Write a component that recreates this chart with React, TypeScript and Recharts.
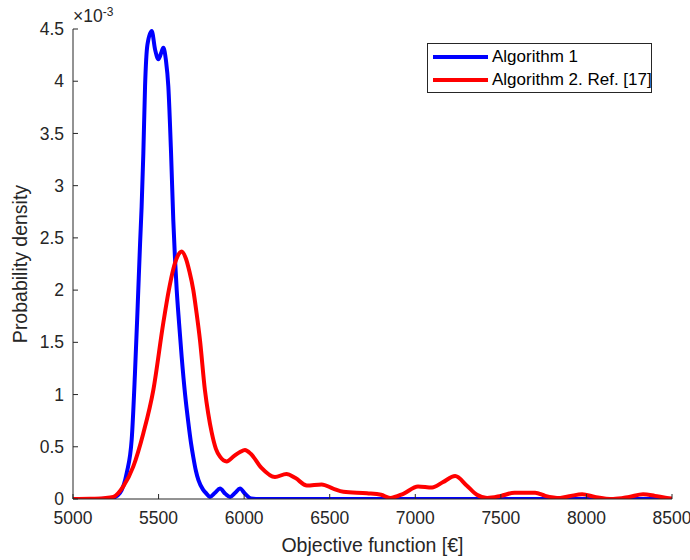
import { LineChart, Line, XAxis, YAxis, Legend } from 'recharts';

// values (y in units of 1e-3)
const blueX = [5000, 5150, 5230, 5275, 5314, 5343, 5362, 5378, 5392, 5401, 5411, 5421, 5435, 5460, 5480, 5499, 5515, 5528, 5543, 5557, 5573, 5586, 5596, 5606, 5620, 5635, 5655, 5674, 5690, 5703, 5718, 5733, 5760, 5781, 5800, 5830, 5859, 5890, 5918, 5948, 5976, 6005, 6040, 6080, 6500, 7000, 7500, 8000, 8500];
const blueY = [0, 0, 0.01, 0.06, 0.25, 0.57, 1.2, 1.85, 2.45, 2.8, 3.31, 3.95, 4.35, 4.48, 4.3, 4.21, 4.27, 4.32, 4.2, 3.95, 3.31, 2.67, 2.3, 2.0, 1.68, 1.36, 1.0, 0.73, 0.53, 0.4, 0.27, 0.18, 0.09, 0.05, 0.02, 0.06, 0.1, 0.05, 0.02, 0.06, 0.1, 0.05, 0.005, 0, 0, 0, 0, 0, 0];

const redX = [5000, 5100, 5180, 5236, 5294, 5352, 5411, 5469, 5528, 5560, 5586, 5610, 5635, 5660, 5680, 5703, 5722, 5742, 5771, 5790, 5810, 5835, 5859, 5898, 5940, 5976, 6005, 6040, 6100, 6180, 6247, 6300, 6366, 6453, 6520, 6580, 6718, 6800, 6853, 6930, 7016, 7098, 7160, 7233, 7300, 7360, 7420, 7500, 7580, 7700, 7760, 7846, 7910, 7975, 8050, 8156, 8250, 8331, 8400, 8470, 8500];
const redY = [0, 0.002, 0.008, 0.02, 0.12, 0.31, 0.63, 1.04, 1.69, 2.0, 2.2, 2.32, 2.37, 2.3, 2.18, 2.0, 1.78, 1.52, 1.04, 0.82, 0.64, 0.48, 0.405, 0.36, 0.41, 0.45, 0.47, 0.43, 0.3, 0.21, 0.24, 0.2, 0.13, 0.14, 0.1, 0.07, 0.055, 0.04, 0.01, 0.05, 0.12, 0.11, 0.16, 0.22, 0.13, 0.04, 0.01, 0.03, 0.06, 0.06, 0.03, 0.01, 0.03, 0.045, 0.02, 0.0, 0.02, 0.045, 0.03, 0.01, 0.005];

const xTicks = [5000, 5500, 6000, 6500, 7000, 7500, 8000, 8500];
const yTicks = [0, 0.5, 1, 1.5, 2, 2.5, 3, 3.5, 4, 4.5];

const blueData = blueX.map((x, i) => ({ x, y: blueY[i] }));
const redData = redX.map((x, i) => ({ x, y: redY[i] }));

const FONT = '"Liberation Sans", Arial, sans-serif';
const AXIS = '#262626';
const TICK_LEN = 5;

const BottomTick = ({ x, y, payload }: any) => (
  <g>
    <line x1={x} x2={x} y1={y} y2={y - TICK_LEN} stroke={AXIS} />
    <text x={x} y={y + 25} textAnchor="middle" fill={AXIS} fontSize={17.5} fontFamily={FONT}>
      {payload.value}
    </text>
  </g>
);

const LeftTick = ({ x, y, payload }: any) => (
  <g>
    <line x1={x} x2={x + TICK_LEN} y1={y} y2={y} stroke={AXIS} />
    <text x={x - 9} y={y} dy="0.35em" textAnchor="end" fill={AXIS} fontSize={17.5} fontFamily={FONT}>
      {payload.value}
    </text>
  </g>
);

const TopTick = ({ x, y }: any) => <line x1={x} x2={x} y1={y} y2={y + TICK_LEN} stroke={AXIS} />;
const RightTick = ({ x, y }: any) => <line x1={x} x2={x - TICK_LEN} y1={y} y2={y} stroke={AXIS} />;

const renderLegend = (props: any) => {
  const { payload } = props;
  return (
    <div
      style={{
        position: 'relative',
        width: 225,
        height: 50,
        boxSizing: 'border-box',
        border: `1px solid ${AXIS}`,
        background: '#fff',
        fontFamily: FONT,
        fontSize: 17,
        color: '#000',
      }}
    >
      {(payload || []).map((entry: any, i: number) => (
        <div key={`item-${i}`} style={{ position: 'absolute', left: 0, top: 2 + i * 23, height: 22, width: '100%' }}>
          <div style={{ position: 'absolute', left: 5, top: 9, width: 55, height: 4, background: entry.color }} />
          <span style={{ position: 'absolute', left: 64, top: 0, lineHeight: '22px', whiteSpace: 'nowrap' }}>{entry.value}</span>
        </div>
      ))}
    </div>
  );
};

export default function App() {
  return (
    <div style={{ position: 'absolute', left: 0, top: 0, width: 690, height: 560, background: '#fff' }}>
      <LineChart width={690} height={560} margin={{ top: 29, right: 18, bottom: 0, left: 0 }}>
        <XAxis
          dataKey="x"
          type="number"
          domain={[5000, 8500]}
          ticks={xTicks}
          allowDataOverflow
          height={61}
          stroke={AXIS}
          tickSize={0}
          tickMargin={0}
          tickLine={false}
          tick={<BottomTick />}
          label={{ value: 'Objective function [€]', position: 'insideBottom', offset: 8, fill: AXIS, fontSize: 19.5, fontFamily: FONT }}
        />
        <XAxis
          xAxisId="top"
          orientation="top"
          dataKey="x"
          type="number"
          domain={[5000, 8500]}
          ticks={xTicks}
          allowDataOverflow
          height={0}
          stroke={AXIS}
          tickSize={0}
          tickMargin={0}
          tickLine={false}
          tick={<TopTick />}
        />
        <YAxis
          type="number"
          domain={[0, 4.5]}
          ticks={yTicks}
          allowDataOverflow
          width={73}
          stroke={AXIS}
          tickSize={0}
          tickMargin={0}
          tickLine={false}
          tick={<LeftTick />}
          label={{ value: 'Probability density', angle: -90, position: 'insideLeft', offset: 20, fill: AXIS, fontSize: 19.5, fontFamily: FONT, style: { textAnchor: 'middle' } }}
        />
        <YAxis
          yAxisId="right"
          orientation="right"
          type="number"
          domain={[0, 4.5]}
          ticks={yTicks}
          allowDataOverflow
          width={0}
          stroke={AXIS}
          tickSize={0}
          tickMargin={0}
          tickLine={false}
          tick={<RightTick />}
        />
        <Legend
          layout="vertical"
          align="center"
          verticalAlign="middle"
          content={renderLegend}
          wrapperStyle={{ left: 427, top: 43, width: 225, height: 50 }}
        />
        <Line
          name="Algorithm 1"
          type="monotone"
          data={blueData}
          dataKey="y"
          stroke="#0000ff"
          strokeWidth={4}
          dot={false}
          activeDot={false}
          isAnimationActive={false}
        />
        <Line
          name="Algorithm 2. Ref. [17]"
          type="monotone"
          data={redData}
          dataKey="y"
          stroke="#ff0000"
          strokeWidth={4}
          dot={false}
          activeDot={false}
          isAnimationActive={false}
        />
      </LineChart>
      <div style={{ position: 'absolute', left: 73, top: 6, fontFamily: FONT, fontSize: 17.5, color: AXIS, whiteSpace: 'nowrap', lineHeight: '20px' }}>
        ×10<sup style={{ fontSize: 12, verticalAlign: 'top', position: 'relative', top: -4 }}>-3</sup>
      </div>
    </div>
  );
}
